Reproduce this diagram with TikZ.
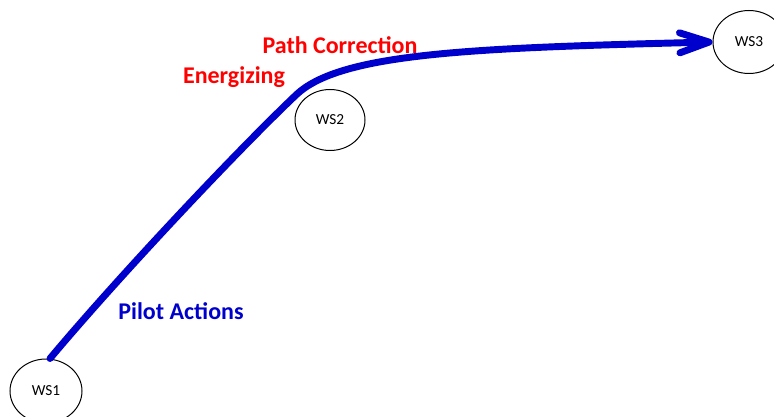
\documentclass[tikz,border=0pt]{standalone}
\usepackage{fontspec}
\setmainfont{Carlito}
\usetikzlibrary{shapes.geometric,arrows.meta}
\definecolor{pathblue}{RGB}{0,0,205}
\definecolor{labred}{RGB}{255,0,0}
\tikzset{
  ws/.style={draw=black, line width=0.75pt, ellipse, inner sep=0pt, font=\fontsize{11.5pt}{13pt}\selectfont},
  biglabel/.style={font=\bfseries\fontsize{18pt}{20pt}\selectfont, inner sep=0pt},
  flow/.style={draw=pathblue, line width=5.2pt, line cap=round,
    -{Straight Barb[length=22pt,width=15pt,round]}}
}
\begin{document}
\begin{tikzpicture}[x=0.75pt,y=-0.75pt]
\useasboundingbox (0,0) rectangle (774,417);
\node[ws, minimum width=54pt, minimum height=48pt] (ws1) at (46,391) {WS1};
\node[ws, minimum width=52.5pt, minimum height=45.75pt] (ws2) at (330,120) {WS2};
\node[ws, minimum width=54pt, minimum height=47.25pt] (ws3) at (749,42) {WS3};
\coordinate (bend) at (296,95);
\draw[flow] ([xshift=3pt]ws1.north) .. controls (120,275) and (240,148) .. (bend)
  .. controls (340,53) and (470,48) .. (ws3.west);
\node[biglabel, text=labred] (pc) at (340,45) {Path Correction};
\node[biglabel, text=labred] (en) at (234,77) {Energizing};
\node[biglabel, text=pathblue] (pa) at (181,311) {Pilot Actions};
\end{tikzpicture}
\end{document}
